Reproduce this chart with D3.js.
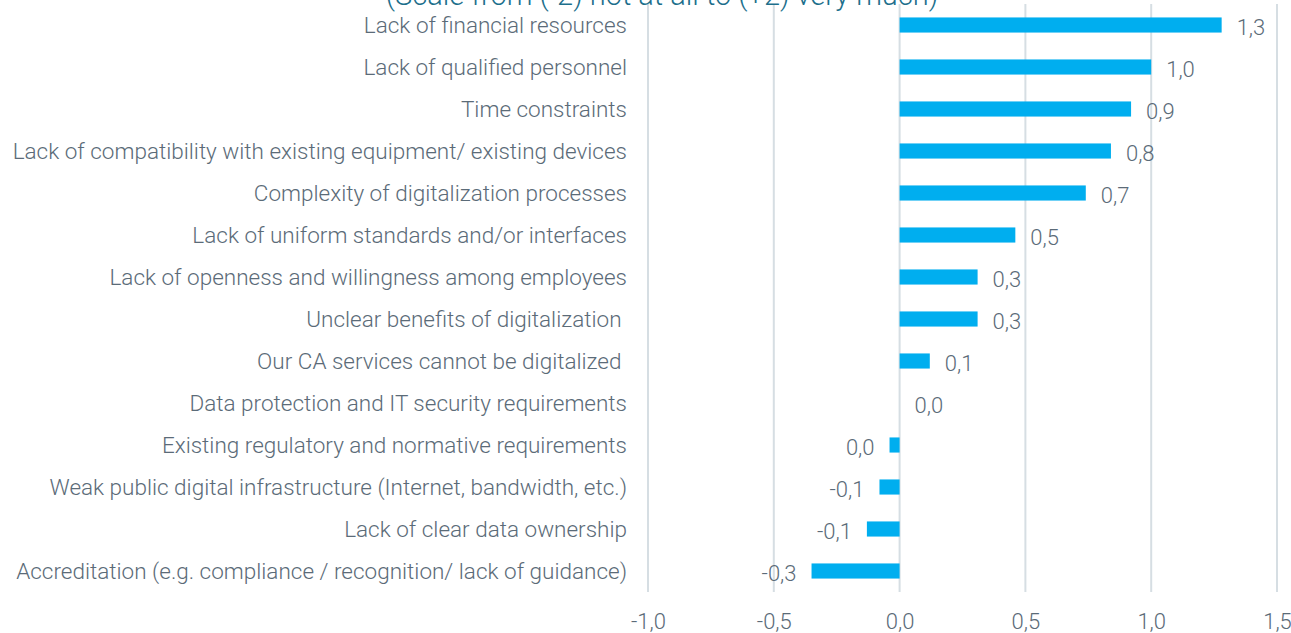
<!DOCTYPE html>
<html>
<head>
<meta charset="utf-8">
<script src="https://cdn.jsdelivr.net/npm/d3@7"></script>
<style>
  html, body { margin: 0; padding: 0; background: #ffffff; }
  svg { display: block; }
  text { white-space: pre; }
</style>
</head>
<body>
<svg id="chart" width="1291" height="633"></svg>
<script>
const titleText = "(Scale from (-2) not at all to (+2) very much)";
const categories = [
  "Lack of financial resources",
  "Lack of qualified personnel",
  "Time constraints",
  "Lack of compatibility with existing equipment/ existing devices",
  "Complexity of digitalization processes",
  "Lack of uniform standards and/or interfaces",
  "Lack of openness and willingness among employees",
  "Unclear benefits of digitalization ",
  "Our CA services cannot be digitalized ",
  "Data protection and IT security requirements",
  "Existing regulatory and normative requirements",
  "Weak public digital infrastructure (Internet, bandwidth, etc.)",
  "Lack of clear data ownership",
  "Accreditation (e.g. compliance / recognition/ lack of guidance)"
];
const values = [1.28, 1.0, 0.92, 0.84, 0.74, 0.46, 0.31, 0.31, 0.12, 0.0, -0.04, -0.08, -0.13, -0.35];
const tickValues = [-1.0, -0.5, 0.0, 0.5, 1.0, 1.5];
const tickLabels = ["-1,0", "-0,5", "0,0", "0,5", "1,0", "1,5"];

const FONT = "Roboto, 'Liberation Sans', sans-serif";
const WEIGHT = 300;
const TEXT_COLOR = "#5b6b78";
const BAR_COLOR = "#00aeef";
const GRID_COLOR = "#d6dee3";

const svg = d3.select("#chart");
const margin = { left: 648, right: 14, top: 4, bottom: 41 };
const W = 1291, H = 633;

const x = d3.scaleLinear().domain([-1.0, 1.5]).range([margin.left, W - margin.right]);
const y = d3.scaleBand().domain(categories).range([margin.top, H - margin.bottom]).paddingInner(0.64).paddingOuter(0.32);

const fmt = v => {
  const r = Math.round(v * 10) / 10;
  return (r === 0 ? 0 : r).toFixed(1).replace(".", ",");
};

// gridlines
svg.append("g")
  .selectAll("line")
  .data(tickValues)
  .join("line")
  .attr("x1", d => x(d)).attr("x2", d => x(d))
  .attr("y1", margin.top).attr("y2", H - margin.bottom)
  .attr("stroke", GRID_COLOR).attr("stroke-width", 2);

// title (partly above the top edge, as in the original)
svg.append("text")
  .attr("x", 662).attr("y", 5)
  .attr("text-anchor", "middle")
  .attr("font-family", FONT).attr("font-weight", WEIGHT).attr("font-size", 29)
  .attr("fill", "#1d6f8c")
  .text(titleText);

// bars
svg.append("g")
  .selectAll("rect")
  .data(values)
  .join("rect")
  .attr("x", d => Math.min(x(0), x(d)))
  .attr("y", (d, i) => y(categories[i]))
  .attr("width", d => Math.abs(x(d) - x(0)))
  .attr("height", y.bandwidth())
  .attr("fill", BAR_COLOR);

// value labels
svg.append("g")
  .selectAll("text")
  .data(values)
  .join("text")
  .attr("x", d => d >= 0 ? x(d) + 15 : x(d) - 15)
  .attr("y", (d, i) => y(categories[i]) + y.bandwidth() / 2 + 2)
  .attr("dy", "0.35em")
  .attr("text-anchor", d => d >= 0 ? "start" : "end")
  .attr("font-family", FONT).attr("font-weight", WEIGHT).attr("font-size", 22)
  .attr("fill", TEXT_COLOR)
  .text(d => fmt(d));

// category labels
svg.append("g")
  .selectAll("text")
  .data(categories)
  .join("text")
  .attr("x", 627)
  .attr("y", d => y(d) + y.bandwidth() / 2)
  .attr("dy", "0.35em")
  .attr("text-anchor", "end")
  .attr("font-family", FONT).attr("font-weight", WEIGHT).attr("font-size", 22.5)
  .attr("fill", TEXT_COLOR)
  .text(d => d);

// x axis labels
const xAxis = d3.axisBottom(x).tickValues(tickValues).tickFormat((d, i) => tickLabels[i]).tickSize(0).tickPadding(0);
const ax = svg.append("g").attr("transform", `translate(0, ${H - margin.bottom})`).call(xAxis);
ax.select(".domain").remove();
ax.selectAll("text")
  .attr("y", 37)
  .attr("dy", 0)
  .attr("font-family", FONT).attr("font-weight", WEIGHT).attr("font-size", 22)
  .attr("fill", TEXT_COLOR);
</script>
</body>
</html>
